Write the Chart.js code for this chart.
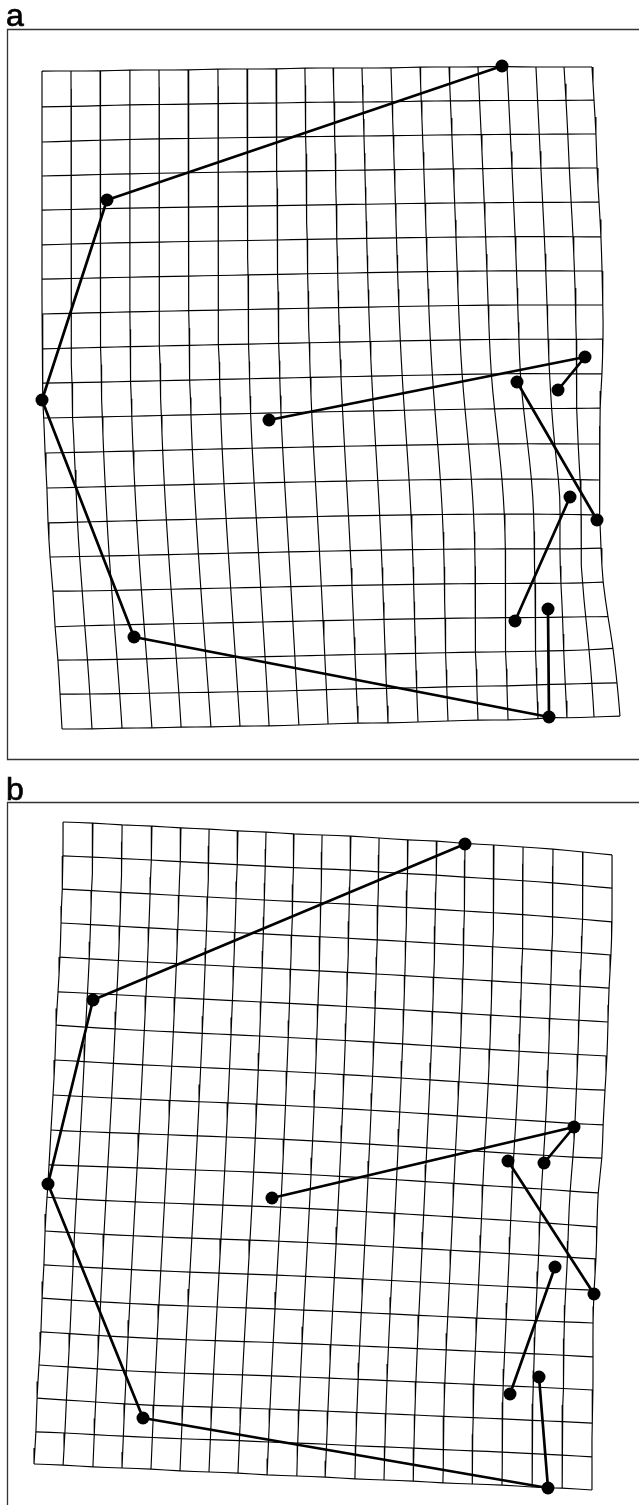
<!DOCTYPE html>
<html>
<head>
<meta charset="utf-8">
<script src="https://cdn.jsdelivr.net/npm/chart.js@4.4.0/dist/chart.umd.min.js"></script>
<style>
  html, body { margin: 0; padding: 0; background: #fff; }
  canvas { display: block; }
</style>
</head>
<body>
<canvas id="fig" width="639" height="1505"></canvas>
<script>
// ---- panel a ----
// landmarks, in picture units
const aLandmarkX = [502, 107, 42, 134, 549, 548, 515, 570, 597, 517, 585, 558, 269];
const aLandmarkY = [66, 200, 400, 637, 717, 609, 621, 497, 520, 382, 357, 390, 420];
// where each landmark sits in the grid (column, row)
const aLandmarkCol = [15.83, 2.22, 0, 2.63, 16.38, 16.43, 15.33, 17.42, 18.86, 15.87, 18.32, 17.27, 7.6];
const aLandmarkRow = [0, 3.75, 9.48, 16.36, 19, 15.75, 16.1, 12.5, 13.15, 9.24, 8.51, 9.47, 10.2];
// grid border nodes
const aTopX = [42, 71, 100, 130, 159, 188, 218, 247, 276, 305, 333, 362, 391, 420, 449, 478, 507, 536, 564, 592];
const aTopY = [71, 71, 71, 70, 70, 70, 69, 69, 69, 68, 68, 68, 68, 67, 67, 67, 67, 67, 67, 67];
const aBottomX = [62, 92, 122, 152, 181, 211, 240, 269, 299, 328, 358, 388, 418, 448, 478, 508, 538, 567, 594, 620];
const aBottomY = [729, 729, 728, 728, 727, 727, 726, 726, 725, 724, 723, 723, 722, 721, 720, 720, 719, 718, 717, 716];
const aLeftX = [42, 42, 42, 42, 42, 42, 42, 42, 43, 43, 44, 45, 47, 48, 50, 53, 55, 58, 60, 62];
const aLeftY = [71, 107, 142, 176, 210, 245, 279, 314, 349, 383, 418, 453, 488, 523, 557, 591, 627, 660, 694, 729];
const aRightX = [592, 594, 596, 597, 599, 601, 602, 603, 603, 602, 600, 600, 599, 600, 601, 603, 608, 613, 617, 620];
const aRightY = [67, 100, 134, 168, 202, 237, 271, 305, 339, 374, 408, 444, 480, 515, 548, 582, 617, 648, 683, 716];

// ---- panel b ----
const bLandmarkX = [465, 93, 48, 143, 548, 539, 510, 555, 594, 508, 574, 544, 272];
const bLandmarkY = [844, 1000, 1184, 1418, 1488, 1377, 1394, 1267, 1294, 1161, 1127, 1163, 1198];
const bLandmarkCol = [14, 1.2, 0, 3.65, 17.53, 17.18, 16.24, 17.58, 19, 15.82, 17.97, 17.03, 7.68];
const bLandmarkRow = [0, 5.19, 10.58, 17.4, 19, 15.69, 16.24, 12.33, 13.12, 9.23, 8.1, 9.23, 10.74];
const bTopX = [63, 93, 122, 152, 181, 209, 238, 266, 294, 322, 351, 379, 408, 437, 465, 494, 523, 553, 583, 612];
const bTopY = [822, 823, 825, 826, 828, 829, 831, 832, 834, 835, 836, 838, 840, 841, 843, 845, 847, 849, 852, 855];
const bBottomX = [34, 63, 93, 122, 151, 180, 209, 238, 267, 297, 325, 355, 384, 413, 443, 472, 502, 532, 562, 592];
const bBottomY = [1464, 1465, 1467, 1468, 1469, 1471, 1472, 1473, 1475, 1476, 1477, 1479, 1480, 1481, 1483, 1484, 1485, 1487, 1488, 1490];
const bLeftX = [63, 63, 62, 61, 60, 58, 56, 55, 53, 51, 49, 47, 45, 44, 42, 41, 39, 37, 36, 34];
const bLeftY = [822, 856, 889, 923, 957, 992, 1025, 1060, 1095, 1130, 1165, 1197, 1231, 1265, 1298, 1332, 1365, 1398, 1432, 1464];
const bRightX = [612, 612, 612, 611, 609, 608, 607, 605, 603, 602, 598, 597, 596, 594, 593, 593, 593, 592, 592, 592];
const bRightY = [855, 888, 922, 955, 988, 1022, 1056, 1090, 1125, 1158, 1193, 1227, 1259, 1290, 1323, 1357, 1390, 1423, 1457, 1490];

// outlines joining the landmarks (same for both panels)
const links = [[0, 1, 2, 3, 4, 5], [6, 7], [9, 8], [12, 10, 11]];

const GRID_N = 20;   // grid lines each way
const SUB = 2;       // samples per cell along a grid line
const W = 639, H = 1505;

const panels = [
  { label: "a", left: 7.5, top: 29.5, bottom: 759.5, labelY: 26 },
  { label: "b", left: 7.5, top: 802.5, bottom: null, labelY: 800 },
];

// thin plate spline from grid (col,row) to picture position
function solve(A, B) {
  const m = A.length, k = B[0].length;
  for (let c = 0; c < m; c++) {
    let p = c;
    for (let r = c + 1; r < m; r++) if (Math.abs(A[r][c]) > Math.abs(A[p][c])) p = r;
    [A[c], A[p]] = [A[p], A[c]];
    [B[c], B[p]] = [B[p], B[c]];
    for (let r = c + 1; r < m; r++) {
      const f = A[r][c] / A[c][c];
      if (!f) continue;
      for (let q = c; q < m; q++) A[r][q] -= f * A[c][q];
      for (let q = 0; q < k; q++) B[r][q] -= f * B[c][q];
    }
  }
  const X = Array.from({ length: m }, () => new Array(k).fill(0));
  for (let r = m - 1; r >= 0; r--) {
    for (let q = 0; q < k; q++) {
      let s = B[r][q];
      for (let c = r + 1; c < m; c++) s -= A[r][c] * X[c][q];
      X[r][q] = s / A[r][r];
    }
  }
  return X;
}

const U = (dx, dy) => {
  const r2 = dx * dx + dy * dy;
  return r2 > 1e-12 ? r2 * Math.log(r2) : 0;
};

function fitWarp(src, dst, lambda) {
  const n = src.length, m = n + 3;
  const A = Array.from({ length: m }, () => new Array(m).fill(0));
  const B = Array.from({ length: m }, () => [0, 0]);
  for (let i = 0; i < n; i++) {
    for (let j = 0; j < n; j++) {
      A[i][j] = U(src[i][0] - src[j][0], src[i][1] - src[j][1]) + (i === j ? lambda : 0);
    }
    A[i][n] = A[n][i] = 1;
    A[i][n + 1] = A[n + 1][i] = src[i][0];
    A[i][n + 2] = A[n + 2][i] = src[i][1];
    B[i] = [dst[i][0], dst[i][1]];
  }
  const X = solve(A, B);
  return (c, r) => {
    let x = X[n][0] + X[n + 1][0] * c + X[n + 2][0] * r;
    let y = X[n][1] + X[n + 1][1] * c + X[n + 2][1] * r;
    for (let k = 0; k < n; k++) {
      const u = U(c - src[k][0], r - src[k][1]);
      x += X[k][0] * u;
      y += X[k][1] * u;
    }
    return { x, y };
  };
}

function buildPanel(p) {
  const src = [], dst = [];
  const last = GRID_N - 1;
  for (let i = 0; i < GRID_N; i++) {
    src.push([i, 0]); dst.push([p.topX[i], p.topY[i]]);
    src.push([i, last]); dst.push([p.bottomX[i], p.bottomY[i]]);
  }
  for (let j = 1; j < last; j++) {
    src.push([0, j]); dst.push([p.leftX[j], p.leftY[j]]);
    src.push([last, j]); dst.push([p.rightX[j], p.rightY[j]]);
  }
  p.lmX.forEach((x, k) => {
    src.push([p.lmCol[k], p.lmRow[k]]);
    dst.push([x, p.lmY[k]]);
  });
  const warp = fitWarp(src, dst, 0.5);

  const grid = [];
  for (let j = 0; j < GRID_N; j++) {
    const pts = [];
    for (let s = 0; s <= last * SUB; s++) pts.push(warp(s / SUB, j));
    grid.push(pts);
  }
  for (let i = 0; i < GRID_N; i++) {
    const pts = [];
    for (let s = 0; s <= last * SUB; s++) pts.push(warp(i, s / SUB));
    grid.push(pts);
  }
  const outline = links.map(chain => chain.map(k => ({ x: p.lmX[k], y: p.lmY[k] })));
  const dots = p.lmX.map((x, k) => ({ x, y: p.lmY[k] }));
  return { grid, outline, dots };
}

const panelA = buildPanel({
  lmX: aLandmarkX, lmY: aLandmarkY, lmCol: aLandmarkCol, lmRow: aLandmarkRow,
  topX: aTopX, topY: aTopY, bottomX: aBottomX, bottomY: aBottomY,
  leftX: aLeftX, leftY: aLeftY, rightX: aRightX, rightY: aRightY,
});
const panelB = buildPanel({
  lmX: bLandmarkX, lmY: bLandmarkY, lmCol: bLandmarkCol, lmRow: bLandmarkRow,
  topX: bTopX, topY: bTopY, bottomX: bBottomX, bottomY: bBottomY,
  leftX: bLeftX, leftY: bLeftY, rightX: bRightX, rightY: bRightY,
});

const datasets = [];
[panelA, panelB].forEach(pn => {
  datasets.push({
    data: pn.dots, showLine: false, pointRadius: 6.5, pointHoverRadius: 6.5,
    pointBackgroundColor: "#000", pointBorderWidth: 0,
  });
});
[panelA, panelB].forEach(pn => {
  pn.outline.forEach(seg => datasets.push({
    data: seg, showLine: true, borderColor: "#000", borderWidth: 2.7, pointRadius: 0,
    borderCapStyle: "round", borderJoinStyle: "round",
  }));
});
[panelA, panelB].forEach(pn => {
  pn.grid.forEach(line => datasets.push({
    data: line, showLine: true, borderColor: "#000", borderWidth: 1.15, pointRadius: 0,
  }));
});

const framePlugin = {
  id: "frames",
  beforeDatasetsDraw(chart) {
    const { ctx, scales: { x, y } } = chart;
    ctx.save();
    ctx.strokeStyle = "#333";
    ctx.lineWidth = 1.3;
    panels.forEach(p => {
      const l = x.getPixelForValue(p.left), t = y.getPixelForValue(p.top);
      ctx.beginPath();
      ctx.moveTo(x.getPixelForValue(W), t);
      ctx.lineTo(l, t);
      if (p.bottom !== null) {
        const b = y.getPixelForValue(p.bottom);
        ctx.lineTo(l, b);
        ctx.lineTo(x.getPixelForValue(W), b);
      } else {
        ctx.lineTo(l, y.getPixelForValue(H));
      }
      ctx.stroke();
      ctx.fillStyle = "#000";
      ctx.strokeStyle = "#000";
      ctx.lineWidth = 0.7;
      ctx.font = '32px "Liberation Sans", Arial, sans-serif';
      ctx.textBaseline = "alphabetic";
      const lx = x.getPixelForValue(6), ly = y.getPixelForValue(p.labelY);
      ctx.fillText(p.label, lx, ly);
      ctx.strokeText(p.label, lx, ly);
      ctx.strokeStyle = "#333";
      ctx.lineWidth = 1.3;
    });
    ctx.restore();
  },
};

new Chart(document.getElementById("fig"), {
  type: "scatter",
  data: { datasets },
  options: {
    responsive: false,
    animation: false,
    events: [],
    layout: { padding: 0, autoPadding: false },
    plugins: { legend: { display: false }, tooltip: { enabled: false } },
    scales: {
      x: { type: "linear", min: 0, max: W, display: false },
      y: { type: "linear", min: 0, max: H, reverse: true, display: false },
    },
  },
  plugins: [framePlugin],
});
</script>
</body>
</html>
